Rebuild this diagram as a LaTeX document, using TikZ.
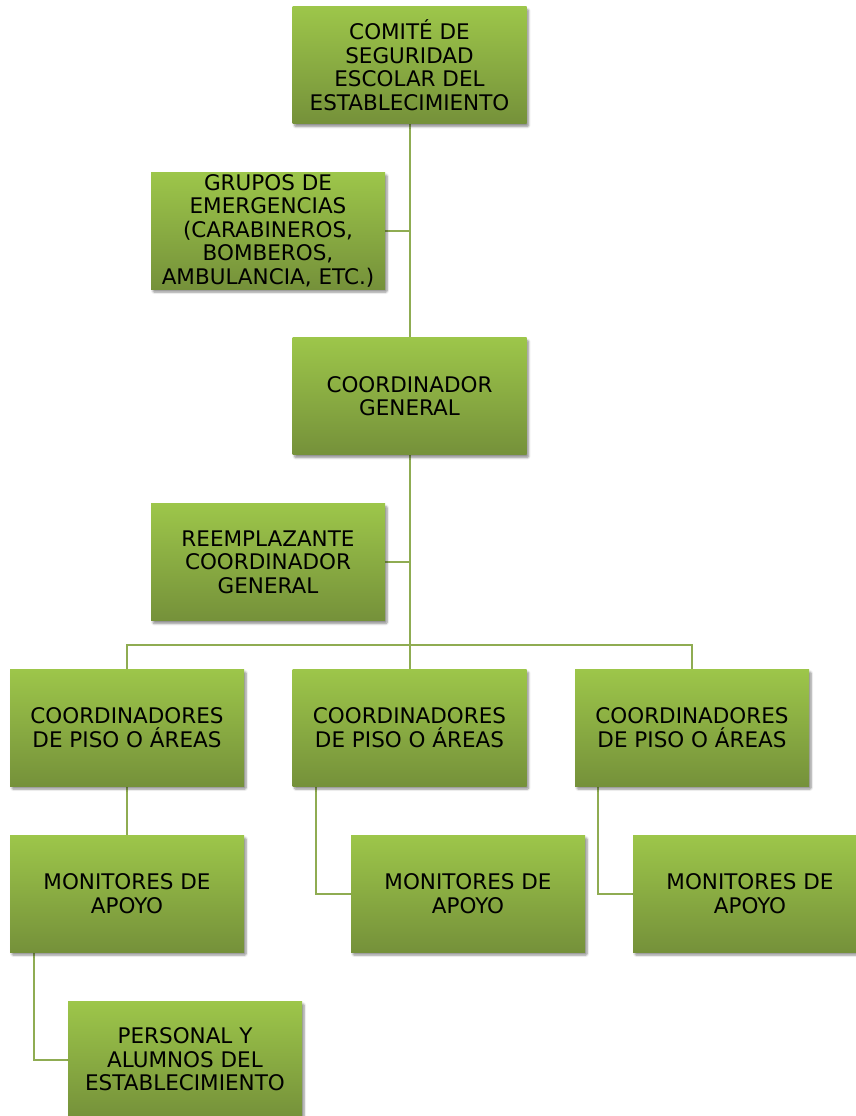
\documentclass[tikz,border=0pt]{standalone}
\usepackage{fontspec}
\setmainfont{DejaVu Sans}
\usetikzlibrary{shadows.blur,backgrounds}
\definecolor{boxtop}{RGB}{157,198,74}
\definecolor{boxbot}{RGB}{117,145,58}
\definecolor{linkcol}{RGB}{143,172,82}
\tikzset{
  orgbox/.style={rectangle, minimum width=234pt, minimum height=117pt,
    top color=boxtop, bottom color=boxbot, draw=none,
    blur shadow={shadow xshift=2pt, shadow yshift=-3pt, shadow blur steps=6, shadow opacity=45, shadow blur extra rounding=1pt},
    align=center, font=\fontsize{21.5}{23.5}\selectfont, text=black, inner sep=2pt},
  link/.style={draw=linkcol, line width=2pt}
}
\begin{document}
\begin{tikzpicture}[x=1pt,y=-1pt]
\clip (0,0) rectangle (856,1116);
\node[orgbox] (top) at (409.5,65) {COMITÉ DE\\SEGURIDAD\\ESCOLAR DEL\\ESTABLECIMIENTO};
\node[orgbox] (grupos) at (268,230.5) {GRUPOS DE\\EMERGENCIAS\\(CARABINEROS,\\BOMBEROS,\\AMBULANCIA, ETC.)};
\node[orgbox] (cg) at (409.5,396) {COORDINADOR\\GENERAL};
\node[orgbox] (reemp) at (268,562) {REEMPLAZANTE\\COORDINADOR\\GENERAL};
\node[orgbox] (c1) at (127,727.5) {COORDINADORES\\DE PISO O ÁREAS};
\node[orgbox] (c2) at (409.5,727.5) {COORDINADORES\\DE PISO O ÁREAS};
\node[orgbox] (c3) at (692,727.5) {COORDINADORES\\DE PISO O ÁREAS};
\node[orgbox] (m1) at (127,893.5) {MONITORES DE\\APOYO};
\node[orgbox] (m2) at (468,893.5) {MONITORES DE\\APOYO};
\node[orgbox] (m3) at (750,893.5) {MONITORES DE\\APOYO};
\node[orgbox] (p) at (185,1059.5) {PERSONAL Y\\ALUMNOS DEL\\ESTABLECIMIENTO};
\coordinate (bar) at (409.5,645);
\begin{pgfonlayer}{background}
\draw[link] (top.south) -- (cg.north);
\draw[link] (grupos.east) -- (grupos.east -| top.south);
\draw[link] (cg.south) -- (c2.north);
\draw[link] (reemp.east) -- (reemp.east -| cg.south);
\draw[link] (c1.north) |- (bar) -| (c3.north);
\draw[link] (c1.south) -- (m1.north);
\draw[link] ([xshift=-94pt]c2.south) |- (m2.west);
\draw[link] ([xshift=-94pt]c3.south) |- (m3.west);
\draw[link] ([xshift=-93pt]m1.south) |- (p.west);
\end{pgfonlayer}
\end{tikzpicture}
\end{document}
